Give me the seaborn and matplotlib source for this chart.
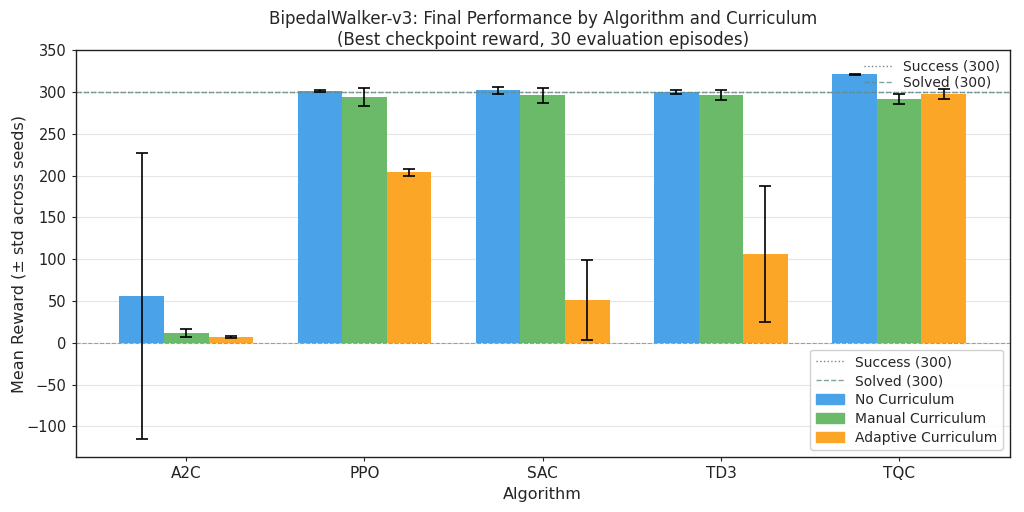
import numpy as np
import pandas as pd
import matplotlib
matplotlib.use("Agg")
import matplotlib.pyplot as plt
import seaborn as sns
from matplotlib.lines import Line2D

algorithms = ["A2C", "PPO", "SAC", "TD3", "TQC"]
curricula = ["No Curriculum", "Manual Curriculum", "Adaptive Curriculum"]
mean_none = [56, 301, 302, 300, 321]
std_none = [171, 1, 4, 2, 1]
mean_manual = [12, 294, 296, 296, 292]
std_manual = [5, 11, 9, 6, 6]
mean_adaptive = [7, 204, 51, 106, 298]
std_adaptive = [1, 4, 48, 81, 6]

colors = ["#4aa3e8", "#6aba6a", "#fca628"]

rows = []
for cur, means, stds in zip(curricula,
                            [mean_none, mean_manual, mean_adaptive],
                            [std_none, std_manual, std_adaptive]):
    for alg, m, s in zip(algorithms, means, stds):
        rows.append({"Algorithm": alg, "Curriculum": cur, "Mean": m, "Std": s})
df = pd.DataFrame(rows)

sns.set_style("whitegrid")
fig, ax = plt.subplots(figsize=(10.24, 5.12), dpi=100)

sns.barplot(data=df, x="Algorithm", y="Mean", hue="Curriculum",
            order=algorithms, hue_order=curricula, palette=colors,
            width=0.75, errorbar=None, saturation=1, linewidth=0,
            ax=ax, legend=False)

# error bars at bar centres
for patch_group, cur in zip(ax.containers, curricula):
    sub = df[df["Curriculum"] == cur].set_index("Algorithm").loc[algorithms]
    xs = [p.get_x() + p.get_width() / 2 for p in patch_group]
    ax.errorbar(xs, sub["Mean"], yerr=sub["Std"], fmt="none",
                ecolor="black", elinewidth=1.2, capsize=4, capthick=1.2, zorder=5)

ax.axhline(300, color="gray", linestyle=":", linewidth=1, alpha=0.8)
ax.axhline(300, color="#5f8f8a", linestyle="--", linewidth=1, alpha=0.8)
ax.axhline(0, color="gray", linestyle="--", linewidth=0.8, alpha=0.7)

ax.set_ylim(-137, 350)
ax.set_yticks(np.arange(-100, 351, 50))
ax.set_xlim(-0.62, 4.62)
ax.grid(axis="x", visible=False)
ax.grid(axis="y", color="#e5e5e5", linewidth=0.8)
for sp in ax.spines.values():
    sp.set_color("#222222")
    sp.set_linewidth(1)

ax.set_title("BipedalWalker-v3: Final Performance by Algorithm and Curriculum\n"
             "(Best checkpoint reward, 30 evaluation episodes)", fontsize=12, pad=4)
ax.set_xlabel("Algorithm", fontsize=11.5)
ax.set_ylabel("Mean Reward (± std across seeds)", fontsize=11.5, labelpad=0)
ax.tick_params(axis="y", labelsize=10.5, length=3, left=True, colors="#222222")
ax.tick_params(axis="x", labelsize=11, length=3, bottom=True, colors="#222222")

line_handles = [Line2D([0], [0], color="gray", linestyle=":", linewidth=1),
                Line2D([0], [0], color="#5f8f8a", linestyle="--", linewidth=1, alpha=0.8)]
line_labels = ["Success (300)", "Solved (300)"]
leg1 = ax.legend(line_handles, line_labels, loc="upper right", frameon=False,
                 fontsize=10, borderaxespad=0.3, handletextpad=0.8,
                 labelspacing=0.15, markerfirst=True)
ax.add_artist(leg1)

patch_handles = [plt.Rectangle((0, 0), 1, 1, color=c) for c in colors]
ax.legend(line_handles + patch_handles, line_labels + curricula,
          loc="lower right", fontsize=10, frameon=True, framealpha=0.9,
          labelspacing=0.35)

fig.subplots_adjust(left=0.074, right=0.986, top=0.902, bottom=0.107)
plt.savefig("out.png", dpi=100)
